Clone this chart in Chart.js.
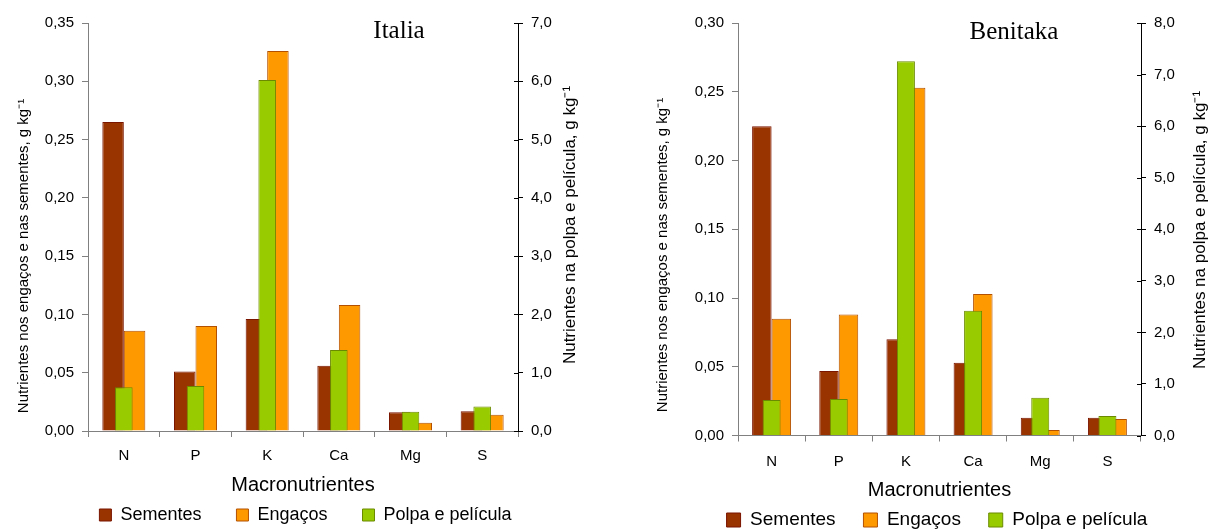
<!DOCTYPE html>
<html>
<head>
    <style>
        body {
            margin: 0;
            overflow: hidden;
            background: #fff;
        }

        .panel {
            position: absolute;
            top: 0;
            height: 529px;
        }

        #italiaBox {
            left: 0;
            width: 595px;
        }

        #benitakaBox {
            left: 645px;
            width: 566px;
        }
    </style>
    <script src="https://cdn.jsdelivr.net/npm/chart.js"></script>
</head>
<body>
    <div class="panel" id="italiaBox"><canvas id="italiaChart"></canvas></div>
    <div class="panel" id="benitakaBox"><canvas id="benitakaChart"></canvas></div>

    <script>
        const categories = ['N', 'P', 'K', 'Ca', 'Mg', 'S'];
        const seriesNames = ['Sementes', 'Engaços', 'Polpa e película'];

        // Italia (left axis: sementes, engaços; right axis: polpa e película)
        const italiaSementes = [0.265, 0.051, 0.096, 0.056, 0.016, 0.017];
        const italiaEngacos = [0.086, 0.090, 0.326, 0.108, 0.007, 0.014];
        const italiaPolpa = [0.75, 0.77, 6.02, 1.39, 0.33, 0.42];
        const italiaLeftTicks = [0, 0.05, 0.10, 0.15, 0.20, 0.25, 0.30, 0.35];
        const italiaRightTicks = [0, 1, 2, 3, 4, 5, 6, 7];

        // Benitaka
        const benitakaSementes = [0.225, 0.047, 0.070, 0.053, 0.013, 0.013];
        const benitakaEngacos = [0.085, 0.088, 0.253, 0.103, 0.004, 0.012];
        const benitakaPolpa = [0.69, 0.71, 7.26, 2.42, 0.73, 0.38];
        const benitakaLeftTicks = [0, 0.05, 0.10, 0.15, 0.20, 0.25, 0.30];
        const benitakaRightTicks = [0, 1, 2, 3, 4, 5, 6, 7, 8];

        const leftTitle = 'Nutrientes nos engaços e nas sementes, g kg\u207B\u00B9';
        const rightTitle = 'Nutrientes na polpa e película, g kg\u207B\u00B9';
        const sans = 'Liberation Sans, Arial, sans-serif';

        // variety name inside the plot, both axis titles read bottom-up,
        // and the right axis ticks cross the axis line like in Excel
        const panelDecor = {
            id: 'panelDecor',
            afterDraw(chart, args, o) {
                const ctx = chart.ctx;
                ctx.save();
                ctx.fillStyle = '#000';
                ctx.textAlign = 'center';
                ctx.textBaseline = 'middle';
                ctx.font = o.nameSize + 'px "Liberation Serif", "Times New Roman", serif';
                ctx.fillText(o.name, chart.chartArea.right - o.nameFromRight, o.nameY);

                [[leftTitle, 15, o.leftX, o.leftY], [rightTitle, 17, o.rightX, o.rightY]].forEach(([t, size, x, y]) => {
                    ctx.save();
                    ctx.translate(x, y);
                    ctx.rotate(-Math.PI / 2);
                    ctx.font = size + 'px ' + sans;
                    ctx.fillText(t, 0, 0);
                    ctx.restore();
                });

                const yR = chart.scales.yR;
                ctx.strokeStyle = '#000';
                ctx.lineWidth = 1;
                ctx.beginPath();
                yR.ticks.forEach(t => {
                    const py = Math.round(yR.getPixelForValue(t.value)) + 0.5;
                    ctx.moveTo(yR.left - 4, py);
                    ctx.lineTo(yR.left, py);
                });
                ctx.stroke();
                ctx.restore();
            }
        };

        function makeChart(id, p) {
            return new Chart(document.getElementById(id), {
                type: 'bar',
                plugins: [panelDecor],
                data: {
                    labels: categories,
                    datasets: [{
                        label: seriesNames[0],
                        data: p.sementes,
                        yAxisID: 'yL',
                        backgroundColor: '#993300',
                        borderColor: '#7a1500',
                        borderWidth: 1,
                        categoryPercentage: p.catPct,
                        barPercentage: 1.0,
                        order: 1
                    }, {
                        label: seriesNames[1],
                        data: p.engacos,
                        yAxisID: 'yL',
                        backgroundColor: '#ff9900',
                        borderColor: '#b35000',
                        borderWidth: 1,
                        categoryPercentage: p.catPct,
                        barPercentage: 1.0,
                        order: 1
                    }, {
                        label: seriesNames[2],
                        data: p.polpa,
                        yAxisID: 'yR',
                        backgroundColor: '#99cc00',
                        borderColor: '#6b8a00',
                        borderWidth: 1,
                        grouped: false,
                        categoryPercentage: 1.0,
                        barPercentage: p.greenPct,
                        order: 0
                    }]
                },
                options: {
                    responsive: true,
                    maintainAspectRatio: false,
                    animation: false,
                    layout: {
                        padding: { top: p.top, left: 0, right: p.padRight, bottom: p.padBottom }
                    },
                    plugins: {
                        tooltip: { enabled: false },
                        panelDecor: p.decor,
                        legend: {
                            position: 'bottom',
                            labels: {
                                color: '#000',
                                font: { family: sans, size: p.legendSize },
                                boxWidth: p.legendBox,
                                boxHeight: p.legendBox,
                                padding: p.legendPad,
                                sort: (a, b) => a.datasetIndex - b.datasetIndex,
                                generateLabels: chart => {
                                    const items = Chart.defaults.plugins.legend.labels.generateLabels(chart);
                                    items.forEach(it => {
                                        if (it.datasetIndex < 2) it.text = it.text + p.legendGap;
                                    });
                                    return items;
                                }
                            }
                        }
                    },
                    scales: {
                        x: {
                            grid: { drawOnChartArea: false, tickLength: 6, color: '#808080', offset: true },
                            border: { color: '#808080' },
                            ticks: { color: '#000', padding: p.xTickPad, font: { family: sans, size: 15 } },
                            title: {
                                display: true,
                                text: 'Macronutrientes',
                                color: '#000',
                                font: { family: sans, size: 20 },
                                padding: { top: 0, bottom: p.xTitlePad }
                            },
                            afterFit: s => { s.height = p.xHeight; }
                        },
                        yL: {
                            position: 'left',
                            min: p.leftTicks[0],
                            max: p.leftTicks[p.leftTicks.length - 1],
                            afterBuildTicks: s => { s.ticks = p.leftTicks.map(v => ({ value: v })); },
                            grid: { drawOnChartArea: false, tickLength: 6, color: '#808080' },
                            border: { color: '#808080' },
                            ticks: {
                                color: '#000',
                                padding: 8,
                                font: { family: sans, size: 15 },
                                callback: v => v.toFixed(2).replace('.', ',')
                            },
                            afterFit: s => { s.width = p.leftWidth; }
                        },
                        yR: {
                            position: 'right',
                            min: p.rightTicks[0],
                            max: p.rightTicks[p.rightTicks.length - 1],
                            afterBuildTicks: s => { s.ticks = p.rightTicks.map(v => ({ value: v })); },
                            grid: { drawOnChartArea: false, tickLength: 5, color: '#000' },
                            border: { color: '#000' },
                            ticks: {
                                color: '#000',
                                padding: 8,
                                font: { family: sans, size: 15 },
                                callback: v => v.toFixed(1).replace('.', ',')
                            },
                            afterFit: s => { s.width = p.rightWidth; }
                        }
                    }
                }
            });
        }

        makeChart('italiaChart', {
            decor: { name: 'Italia', nameSize: 25, nameFromRight: 119, nameY: 31,
                     leftX: 24, leftY: 256, rightX: 570, rightY: 225 },
            sementes: italiaSementes, engacos: italiaEngacos, polpa: italiaPolpa,
            leftTicks: italiaLeftTicks, rightTicks: italiaRightTicks,
            catPct: 0.6, greenPct: 0.245,
            top: 23, padRight: -16, padBottom: -5,
            xHeight: 65, xTickPad: 10, xTitlePad: -1, leftWidth: 88, rightWidth: 93,
            legendSize: 18, legendBox: 12, legendPad: 10, legendGap: '     '
        });

        makeChart('benitakaChart', {
            decor: { name: 'Benitaka', nameSize: 25, nameFromRight: 127, nameY: 32,
                     leftX: 17.5, leftY: 255, rightX: 555, rightY: 230 },
            sementes: benitakaSementes, engacos: benitakaEngacos, polpa: benitakaPolpa,
            leftTicks: benitakaLeftTicks, rightTicks: benitakaRightTicks,
            catPct: 0.58, greenPct: 0.268,
            top: 23, padRight: -18, padBottom: -10.5,
            xHeight: 63, xTickPad: 11, xTitlePad: -4, leftWidth: 93, rightWidth: 88,
            legendSize: 19, legendBox: 14, legendPad: 12, legendGap: '   '
        });
    </script>
</body>
</html>
